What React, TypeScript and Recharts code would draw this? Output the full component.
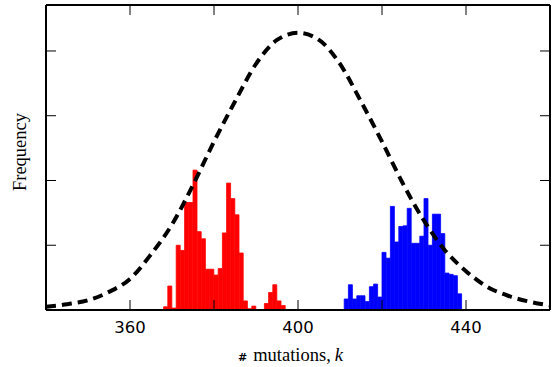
import React from "react";
import { ComposedChart, Bar, Line, XAxis, YAxis } from "recharts";

// histogram bins (left edge of each 1-wide bin) and heights, in y-tick units
const redBins = [368, 369, 370, 371, 372, 373, 374, 375, 376, 377, 378, 379, 380, 381, 382, 383, 384, 385, 386, 387, 388, 389, 390, 391, 392, 393, 394, 395, 396];
const redHeights = [0.05, 0.37, 0.03, 1.0, 0.92, 1.66, 1.66, 2.16, 1.21, 1.1, 0.63, 0.63, 0.54, 0.64, 1.19, 1.96, 1.72, 1.47, 0.88, 0.14, 0.02, 0.06, 0, 0, 0.1, 0.27, 0.39, 0.14, 0.07];

const blueBins = [411, 412, 413, 414, 415, 416, 417, 418, 419, 420, 421, 422, 423, 424, 425, 426, 427, 428, 429, 430, 431, 432, 433, 434, 435, 436, 437, 438];
const blueHeights = [0.17, 0.39, 0.17, 0.22, 0.22, 0.13, 0.36, 0.4, 0.2, 0.89, 0.8, 1.6, 1.05, 1.29, 1.3, 1.57, 1.03, 1.03, 1.14, 1.72, 1.0, 1.48, 1.48, 1.18, 0.57, 0.55, 0.53, 0.25];

// dashed reference curve
const curveX = [340, 345, 350, 355, 360, 365, 370, 375, 380, 385, 390, 395, 400, 405, 410, 415, 420, 425, 430, 435, 440, 445, 450, 455, 460];
const curveY = [0.05, 0.09, 0.15, 0.28, 0.48, 0.86, 1.32, 1.93, 2.6, 3.22, 3.8, 4.17, 4.28, 4.17, 3.8, 3.22, 2.6, 1.95, 1.38, 0.92, 0.6, 0.36, 0.22, 0.13, 0.07];

const xTicks = [360, 380, 400, 420, 440];
const xLabels = [360, 400, 440];
const yTicks = [1, 2, 3, 4];

const W = 555;
const H = 367;

const barData = [
  ...redBins.map((b, i) => ({ x: b + 0.5, red: redHeights[i] || null, blue: null })),
  ...blueBins.map((b, i) => ({ x: b + 0.5, red: null, blue: blueHeights[i] || null })),
];
const curveData = curveX.map((x, i) => ({ x, curve: curveY[i] }));

const BottomTick = (props: any) => {
  const { x, y, payload } = props;
  return (
    <g>
      <line x1={x} x2={x} y1={y} y2={y - 10} stroke="#000" strokeWidth={1} />
      {xLabels.includes(payload.value) && (
        <text x={x} y={y + 23} textAnchor="middle" fontFamily="DejaVu Sans" fontSize={16.5} fill="#000">
          {payload.value}
        </text>
      )}
    </g>
  );
};
const TopTick = (props: any) => (
  <line x1={props.x} x2={props.x} y1={props.y} y2={props.y + 10} stroke="#000" strokeWidth={1} />
);
const LeftTick = (props: any) => (
  <line x1={props.x} x2={props.x + 10} y1={props.y} y2={props.y} stroke="#000" strokeWidth={1} />
);
const RightTick = (props: any) => (
  <line x1={props.x} x2={props.x - 10} y1={props.y} y2={props.y} stroke="#000" strokeWidth={1} />
);

export default function App() {
  const frame = { stroke: "#000", strokeWidth: 2 };
  const serif = "'Liberation Serif', 'Times New Roman', serif";
  return (
    <div style={{ position: "absolute", left: 0, top: 0, width: W, height: H, background: "#fff" }}>
      <ComposedChart
        width={W}
        height={H}
        data={barData}
        margin={{ top: 4, right: 4, left: 45, bottom: 27 }}
        barCategoryGap={0}
        barGap={0}
      >
        <XAxis dataKey="x" type="number" domain={[340, 460]} allowDataOverflow ticks={xTicks} interval={0}
          height={30} tickSize={0} tickMargin={0} axisLine={frame} tickLine={false} tick={<BottomTick />} />
        <XAxis xAxisId="top" orientation="top" dataKey="x" type="number" domain={[340, 460]} allowDataOverflow ticks={xTicks} interval={0}
          height={1} tickSize={0} tickMargin={0} axisLine={frame} tickLine={false} tick={<TopTick />} />
        <YAxis type="number" domain={[0, 4.71]} allowDataOverflow ticks={yTicks} interval={0}
          width={1} tickSize={0} tickMargin={0} axisLine={frame} tickLine={false} tick={<LeftTick />} />
        <YAxis yAxisId="right" orientation="right" type="number" domain={[0, 4.71]} allowDataOverflow ticks={yTicks} interval={0}
          width={1} tickSize={0} tickMargin={0} axisLine={frame} tickLine={false} tick={<RightTick />} />
        <Bar dataKey="red" stackId="h" fill="#ff0000" stroke="#ff0000" strokeWidth={0.8} isAnimationActive={false} />
        <Bar dataKey="blue" stackId="h" fill="#0000ff" stroke="#0000ff" strokeWidth={0.8} isAnimationActive={false} />
        <Line xAxisId="top" data={curveData} dataKey="curve" type="monotone" stroke="#000" strokeWidth={4}
          strokeDasharray="10 6" dot={false} activeDot={false} isAnimationActive={false} />
      </ComposedChart>
      <svg width={W} height={H} style={{ position: "absolute", left: 0, top: 0, pointerEvents: "none" }}>
        <text x={26} y={152} transform="rotate(-90 26 152)" textAnchor="middle"
          fontFamily={serif} fontSize={18.5} fill="#000">
          Frequency
        </text>
        <text x={238} y={361} fontSize={18.5} fill="#000">
          <tspan fontFamily="DejaVu Sans" fontWeight="bold" fontSize={11}>#</tspan>
          <tspan dx={6} fontFamily={serif}>mutations,</tspan>
          <tspan dx={4} fontFamily={serif} fontStyle="italic">k</tspan>
        </text>
      </svg>
    </div>
  );
}
